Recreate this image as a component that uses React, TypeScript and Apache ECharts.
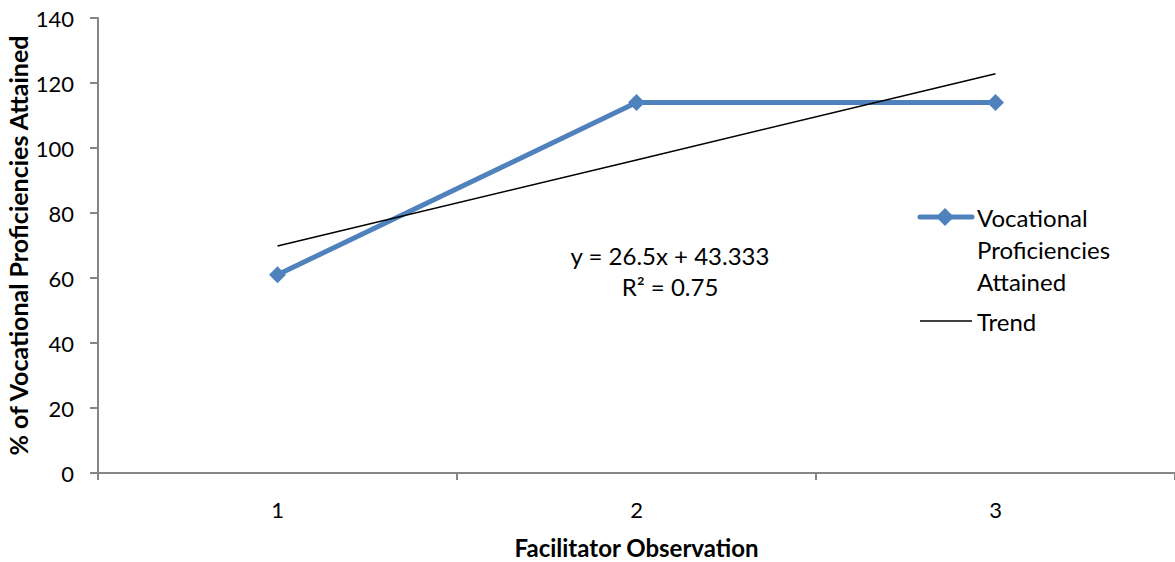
import React, { useEffect, useRef } from "react";
import * as echarts from "echarts";

const categories = ["1", "2", "3"];
const proficiencies = [61, 114, 114];
const trend = [69.833, 96.333, 122.833];
const yTicks = { min: 0, max: 140, interval: 20 };
const equationText = "y = 26.5x + 43.333\nR² = 0.75";
const seriesNames = ["Vocational Proficiencies Attained", "Trend"];
const legendLabels = ["Vocational\nProficiencies\nAttained", "Trend"];

const FONT = "Lato";
const BLUE = "#4F81BD";

export default function App() {
  const ref = useRef<HTMLDivElement>(null);
  useEffect(() => {
    if (!ref.current) return;
    const chart = echarts.init(ref.current, undefined, { renderer: "svg" });
    chart.setOption({
      animation: false,
      textStyle: { fontFamily: FONT },
      grid: { left: 98, right: 0, top: 18, bottom: 89, containLabel: false, outerBoundsMode: "none" },
      xAxis: {
        type: "category",
        data: categories,
        boundaryGap: true,
        axisLine: { lineStyle: { color: "#868686", width: 2 } },
        axisTick: { show: true, length: 7, lineStyle: { color: "#868686", width: 2 } },
        axisLabel: { color: "#000", fontSize: 22, margin: 25, fontFamily: FONT },
        name: "Facilitator Observation",
        nameLocation: "middle",
        nameGap: 62,
        nameTextStyle: { color: "#000", fontSize: 24, fontWeight: "bold", fontFamily: FONT },
      },
      yAxis: {
        type: "value",
        min: yTicks.min,
        max: yTicks.max,
        interval: yTicks.interval,
        splitLine: { show: false },
        axisLine: { show: true, lineStyle: { color: "#868686", width: 2 } },
        axisTick: { show: true, length: 8, lineStyle: { color: "#868686", width: 2 } },
        axisLabel: { color: "#000", fontSize: 22, margin: 24, fontFamily: FONT },
        name: "% of Vocational Proficiencies Attained",
        nameLocation: "middle",
        nameGap: 68,
        nameMoveOverlap: false,
        nameTextStyle: { color: "#000", fontSize: 25, fontWeight: "bold", fontFamily: FONT },
      },
      legend: { show: false, data: seriesNames },
      graphic: [
        {
          type: "text",
          x: 670,
          y: 240,
          style: {
            text: equationText,
            fill: "#000",
            font: `24px ${FONT}`,
            lineHeight: 31,
            align: "center",
            verticalAlign: "top",
          },
        },
        {
          type: "line",
          shape: { x1: 920, y1: 217, x2: 972, y2: 217 },
          style: { stroke: BLUE, lineWidth: 5, lineCap: "round" },
        },
        {
          type: "polygon",
          shape: { points: [[945, 208], [954, 217], [945, 226], [936, 217]] },
          style: { fill: BLUE },
        },
        {
          type: "text",
          x: 977,
          y: 201,
          style: {
            text: legendLabels[0],
            fill: "#000",
            font: `24px ${FONT}`,
            lineHeight: 32,
            align: "left",
            verticalAlign: "top",
          },
        },
        {
          type: "line",
          shape: { x1: 920, y1: 321, x2: 972, y2: 321 },
          style: { stroke: "#000", lineWidth: 1.5 },
        },
        {
          type: "text",
          x: 977,
          y: 305,
          style: {
            text: legendLabels[1],
            fill: "#000",
            font: `24px ${FONT}`,
            lineHeight: 32,
            align: "left",
            verticalAlign: "top",
          },
        },
      ],
      series: [
        {
          name: seriesNames[0],
          type: "line",
          data: proficiencies,
          symbol: "diamond",
          symbolSize: 17,
          lineStyle: { color: BLUE, width: 5 },
          itemStyle: { color: BLUE },
          z: 3,
        },
        {
          name: seriesNames[1],
          type: "line",
          data: trend,
          symbol: "none",
          lineStyle: { color: "#000", width: 1.5 },
          itemStyle: { color: "#000" },
          z: 4,
        },
      ],
    });
    return () => chart.dispose();
  }, []);
  return (
    <div
      ref={ref}
      style={{ position: "absolute", left: 0, top: 0, width: 1175, height: 562 }}
    />
  );
}
